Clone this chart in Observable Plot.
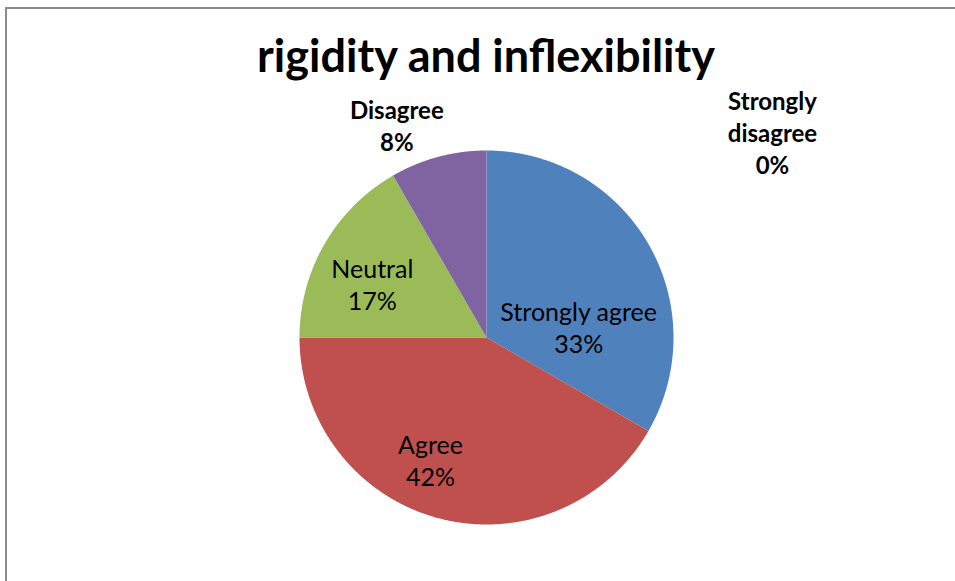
<!DOCTYPE html>
<html>
<head>
<meta charset="utf-8">
<script src="https://cdn.jsdelivr.net/npm/d3@7"></script>
<script src="https://cdn.jsdelivr.net/npm/@observablehq/plot@0.6"></script>
<style>
  html, body { margin: 0; padding: 0; background: #fff; overflow: hidden; width: 955px; height: 581px; }
  #frame { position: absolute; left: 5px; top: 7px; width: 1100px; height: 800px; border: 2px solid #8a8a8a; box-sizing: border-box; }
  #chart { position: absolute; left: 0; top: 0; }
  #title { position: absolute; left: 0; width: 972px; text-align: center; margin: 0;
           font-family: Lato, "Open Sans", sans-serif; font-weight: bold; font-size: 45px; line-height: 1; top: 33px; color: #000; white-space: nowrap; }
</style>
</head>
<body>
<div id="frame"></div>
<div id="chart"></div>
<h1 id="title">rigidity and inflexibility</h1>
<script>
// ---- data ----
const categories = ["Strongly agree", "Agree", "Neutral", "Disagree", "Strongly disagree"];
const counts = [4, 5, 2, 1, 0];
const colors = ["#4F81BD", "#C0504D", "#9BBB59", "#8064A2", "#F79646"];
const percentLabels = ["33%", "42%", "17%", "8%", "0%"];

// ---- layout ----
const W = 955, H = 581;
const cx = 486, cy = 337, R = 187;
// label placement: [radius factor, nudge x, nudge y, bold]
const labelLayout = [
  [0.6, -5, 45, false],
  [0.6, -27, 14, false],
  [0.6, -17, 2, false],
  [1.15, -34, -5, true],
  [1.15, 286, 9, true]
];

const rows = categories.map((c, i) => ({category: c, value: counts[i]}));
const arcs = d3.pie().sort(null).value(d => d.value)(rows);

// polygon points for each slice (angles clockwise from 12 o'clock)
const pts = [];
arcs.forEach(a => {
  if (a.endAngle - a.startAngle <= 0) return;
  const cat = a.data.category;
  pts.push({category: cat, x: cx, y: cy});
  const n = Math.max(2, Math.ceil((a.endAngle - a.startAngle) / 0.005));
  for (let k = 0; k <= n; k++) {
    const t = a.startAngle + (a.endAngle - a.startAngle) * k / n;
    pts.push({category: cat, x: cx + R * Math.sin(t), y: cy - R * Math.cos(t)});
  }
});

const labels = arcs.map((a, i) => {
  const [f, nx, ny, bold] = labelLayout[i];
  const mid = (a.startAngle + a.endAngle) / 2;
  const name = a.data.category === "Strongly disagree" ? "Strongly\ndisagree" : a.data.category;
  return {
    text: name + "\n" + percentLabels[i],
    x: cx + f * R * Math.sin(mid) + nx,
    y: cy - f * R * Math.cos(mid) + ny,
    bold
  };
});

const chart = Plot.plot({
  width: W,
  height: H,
  margin: 0,
  x: {type: "identity", axis: null},
  y: {type: "identity", axis: null},
  color: {domain: categories, range: colors},
  style: {background: "transparent", overflow: "visible"},
  marks: [
    Plot.line(pts, {x: "x", y: "y", z: "category", fill: "category", stroke: "none", curve: "linear-closed"}),
    Plot.text(labels.filter(d => !d.bold), {x: "x", y: "y", text: "text", fontFamily: "Lato, sans-serif",
      fontSize: 25, lineHeight: 1.28, fill: "#000", textAnchor: "middle", lineAnchor: "middle"}),
    Plot.text(labels.filter(d => d.bold), {x: "x", y: "y", text: "text", fontFamily: "Lato, sans-serif",
      fontSize: 24, fontWeight: "bold", lineHeight: 1.333, fill: "#000", textAnchor: "middle", lineAnchor: "middle"})
  ]
});
document.getElementById("chart").appendChild(chart);
</script>
</body>
</html>
